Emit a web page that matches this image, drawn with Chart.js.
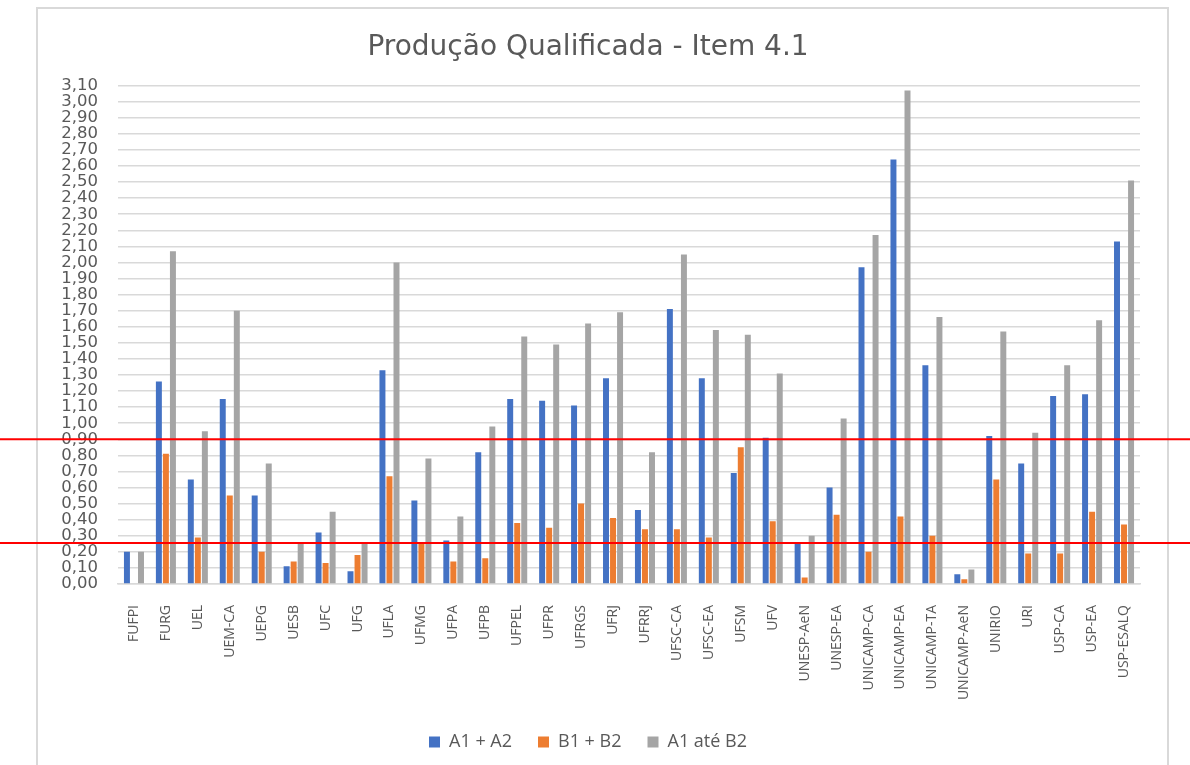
<!DOCTYPE html>
<html>
<head>
<meta charset="utf-8">
<script src="https://cdn.jsdelivr.net/npm/chart.js@4.4.1/dist/chart.umd.min.js"></script>
<style>
  html, body { margin: 0; padding: 0; background: #fff; }
</style>
</head>
<body>
<canvas id="grafico" width="1190" height="765"></canvas>
<script>
/* --- DADOS --- */
const programas = ['FUFPI', 'FURG', 'UEL', 'UEM-CA', 'UEPG', 'UESB', 'UFC', 'UFG', 'UFLA', 'UFMG',
    'UFPA', 'UFPB', 'UFPEL', 'UFPR', 'UFRGS', 'UFRJ', 'UFRRJ', 'UFSC-CA', 'UFSC-EA', 'UFSM',
    'UFV', 'UNESP-AeN', 'UNESP-EA', 'UNICAMP-CA', 'UNICAMP-EA', 'UNICAMP-TA', 'UNICAMP-AeN',
    'UNIRIO', 'URI', 'USP-CA', 'USP-EA', 'USP-ESALQ'];
const a1a2 = [0.20, 1.26, 0.65, 1.15, 0.55, 0.11, 0.32, 0.08, 1.33, 0.52,
    0.27, 0.82, 1.15, 1.14, 1.11, 1.28, 0.46, 1.71, 1.28, 0.69,
    0.91, 0.25, 0.60, 1.97, 2.64, 1.36, 0.06,
    0.92, 0.75, 1.17, 1.18, 2.13];
const b1b2 = [0.00, 0.81, 0.29, 0.55, 0.20, 0.14, 0.13, 0.18, 0.67, 0.26,
    0.14, 0.16, 0.38, 0.35, 0.50, 0.41, 0.34, 0.34, 0.29, 0.85,
    0.39, 0.04, 0.43, 0.20, 0.42, 0.30, 0.03,
    0.65, 0.19, 0.19, 0.45, 0.37];
const a1ateB2 = [0.20, 2.07, 0.95, 1.70, 0.75, 0.25, 0.45, 0.25, 2.00, 0.78,
    0.42, 0.98, 1.54, 1.49, 1.62, 1.69, 0.82, 2.05, 1.58, 1.55,
    1.31, 0.30, 1.03, 2.17, 3.07, 1.66, 0.09,
    1.57, 0.94, 1.36, 1.64, 2.51];
const linhasRef = [0.90, 0.255]; // linhas vermelhas sobre o gráfico

/* --- CONFIG --- */
const cores = { azul: '#4472c4', laranja: '#ed7d31', cinza: '#a5a5a5', texto: '#595959', grade: '#d9d9d9' };
Chart.defaults.font.family = "'Open Sans', 'DejaVu Sans', sans-serif";
Chart.defaults.color = cores.texto;

// moldura do gráfico + linhas vermelhas
const extras = {
    id: 'extras',
    beforeDraw(chart) {
        const ctx = chart.ctx;
        ctx.save();
        ctx.fillStyle = '#fff';
        ctx.fillRect(0, 0, chart.width, chart.height);
        ctx.strokeStyle = cores.grade;
        ctx.lineWidth = 2;
        ctx.strokeRect(37, 8, 1131, chart.height + 10);
        ctx.restore();
    },
    afterDraw(chart) {
        const ctx = chart.ctx, y = chart.scales.y;
        ctx.save();
        ctx.strokeStyle = '#ff0000';
        ctx.lineWidth = 2;
        linhasRef.forEach(v => {
            const py = y.getPixelForValue(v);
            ctx.beginPath();
            ctx.moveTo(0, py);
            ctx.lineTo(chart.width, py);
            ctx.stroke();
        });
        ctx.restore();
    }
};

const barra = { categoryPercentage: 0.66, barPercentage: 0.85 };

new Chart(document.getElementById('grafico'), {
    type: 'bar',
    data: {
        labels: programas,
        datasets: [
            { label: 'A1 + A2', data: a1a2, backgroundColor: cores.azul, ...barra },
            { label: 'B1 + B2', data: b1b2, backgroundColor: cores.laranja, ...barra },
            { label: 'A1 até B2', data: a1ateB2, backgroundColor: cores.cinza, ...barra }
        ]
    },
    options: {
        responsive: false,
        animation: false,
        layout: { padding: { left: 36, right: 50, top: 10, bottom: 4 } },
        plugins: {
            title: {
                display: true,
                text: 'Produção Qualificada - Item 4.1',
                color: cores.texto,
                font: { family: "'DejaVu Sans', sans-serif", size: 28, weight: 'normal' },
                padding: { top: 21, bottom: 21 }
            },
            legend: {
                position: 'bottom',
                labels: {
                    boxWidth: 11, boxHeight: 11, padding: 26,
                    font: { size: 18 }, color: cores.texto
                }
            },
            tooltip: { enabled: false }
        },
        scales: {
            x: {
                afterFit: s => { s.height = 123; },
                grid: { display: false },
                border: { color: cores.grade, width: 1.5 },
                ticks: {
                    maxRotation: 90, minRotation: 90, autoSkip: false,
                    padding: 13, font: { size: 14 }, color: cores.texto
                }
            },
            y: {
                min: 0, max: 3.1,
                afterFit: s => { s.width = 82; },
                grid: { color: cores.grade, lineWidth: 1.5, drawTicks: false },
                border: { display: false },
                ticks: {
                    stepSize: 0.1, autoSkip: false, padding: 20,
                    font: { family: "'DejaVu Sans', sans-serif", size: 16.5 }, color: cores.texto,
                    callback: v => v.toFixed(2).replace('.', ',')
                }
            }
        }
    },
    plugins: [extras]
});
</script>
</body>
</html>
